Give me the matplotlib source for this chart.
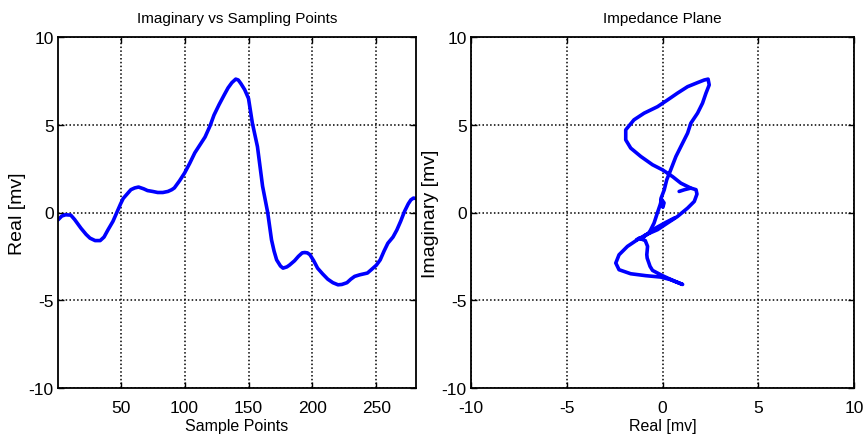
import matplotlib
matplotlib.use('Agg')
import matplotlib.pyplot as plt

plt.rcParams['font.family'] = ['Liberation Sans', 'DejaVu Sans']
plt.rcParams['axes.unicode_minus'] = False

# left panel: signal (sample number, value in mv)
samples = [1, 4, 7, 11, 14, 19, 23, 26, 30, 34, 37, 40, 44, 47, 50, 52, 55,
           58, 61, 64, 68, 71, 75, 79, 83, 87, 90, 92, 96, 100, 104, 108,
           112, 116, 120, 123, 127, 131, 134, 137, 140, 142, 144, 147, 150,
           153, 157, 161, 165, 168, 170, 172, 175, 177, 180, 182, 186, 189,
           192, 194, 196, 198, 201, 204, 208, 212, 216, 220, 223, 227, 230,
           233, 237, 240, 243, 246, 250, 253, 256, 259, 263, 266, 269, 272,
           275, 277, 279, 281]
imag_mv = [-0.42, -0.2, -0.13, -0.15, -0.4, -0.9, -1.25, -1.46, -1.6, -1.6,
           -1.4, -1.0, -0.5, 0.0, 0.5, 0.8, 1.05, 1.3, 1.4, 1.45, 1.35, 1.25,
           1.2, 1.14, 1.14, 1.2, 1.3, 1.4, 1.8, 2.25, 2.8, 3.4, 3.85, 4.3,
           4.95, 5.55, 6.15, 6.7, 7.1, 7.4, 7.6, 7.55, 7.35, 7.0, 6.5, 5.1,
           3.75, 1.5, 0.0, -1.56, -2.2, -2.7, -3.05, -3.17, -3.1, -3.0,
           -2.75, -2.5, -2.3, -2.28, -2.3, -2.4, -2.75, -3.17, -3.5, -3.8,
           -4.0, -4.12, -4.1, -4.0, -3.8, -3.64, -3.55, -3.5, -3.45, -3.26,
           -3.0, -2.7, -2.2, -1.75, -1.4, -1.0, -0.5, 0.06, 0.5, 0.72, 0.82,
           0.8]

# right panel: impedance plane trace (real, imaginary) in mv
real_pts = [0.61, 0.2, -0.3, -0.7, -1.13, -0.95, -0.7, -0.44, -0.26, -0.12,
            -0.05, 0.08, 0.02, -0.08, 0.09, 0.22, 0.43, 0.70, 0.96, 1.31,
            1.48, 1.83, 2.09, 2.27, 2.44, 2.38, 2.18, 1.83, 1.31, 0.78,
            0.26, -0.26, -0.96, -1.49, -1.92, -1.92, -1.66, -1.13, -0.52,
            0.0, 0.52, 0.96, 1.48, 1.75, 1.8, 1.66, 1.31, 0.78, 0.26, -0.26,
            -0.87, -1.31, -1.83, -2.27, -2.44, -2.27, -1.66, -0.87, -0.09,
            0.43, 0.96, 1.05, 0.6, 0.0, -0.52, -0.65, -0.8, -0.82, -0.78,
            -0.9, -1.13, -1.2, -1.35]
imag_pts = [-0.32, -0.55, -0.85, -1.15, -1.5, -1.35, -1.17, -0.6, 0.0, 0.45,
            0.75, 0.55, 0.3, 0.8, 1.29, 1.86, 2.43, 3.19, 3.76, 4.52, 5.09,
            5.66, 6.23, 6.8, 7.27, 7.6, 7.55, 7.4, 7.17, 6.8, 6.41, 6.03,
            5.66, 5.28, 4.71, 4.14, 3.67, 3.19, 2.72, 2.43, 2.05, 1.67, 1.39,
            1.3, 1.05, 0.63, 0.25, -0.23, -0.6, -0.98, -1.27, -1.55, -1.93,
            -2.41, -2.88, -3.26, -3.49, -3.6, -3.68, -3.83, -4.06, -4.1,
            -3.9, -3.6, -3.3, -3.07, -2.6, -2.4, -1.93, -1.6, -1.5, -1.45,
            -1.55]
# short stub ending in the blob near (0.9, 1.2)
stub_real = [1.48, 1.15, 0.87]
stub_imag = [1.39, 1.3, 1.2]

line_kw = dict(color='#0000ff', lw=2.6, solid_capstyle='round',
               solid_joinstyle='round')

fig = plt.figure(figsize=(8.66, 4.39), dpi=100)
ax1 = fig.add_axes([58/866, 50/439, 358/866, 351/439])
ax2 = fig.add_axes([471/866, 50/439, 383/866, 351/439])


def style(ax):
    ax.grid(True, color='black', linestyle=(0, (1, 1.5)), linewidth=1.1)
    ax.tick_params(direction='in', top=True, right=True, length=4,
                   width=1, labelsize=12.5, pad=3)
    ax.tick_params(axis='x', pad=9)
    for s in ax.spines.values():
        s.set_linewidth(1.3)
    ax.set_axisbelow(True)


ax1.plot(samples, imag_mv, **line_kw)
ax1.set_xlim(1, 281)
ax1.set_ylim(-10, 10)
ax1.set_xticks([50, 100, 150, 200, 250])
ax1.set_yticks([-10, -5, 0, 5, 10])
ax1.set_title('Imaginary vs Sampling Points', fontsize=11, pad=11)
ax1.set_xlabel('Sample Points', fontsize=11.5, labelpad=2)
ax1.set_ylabel('Real [mv]', fontsize=14, labelpad=2)
style(ax1)

ax2.plot(real_pts, imag_pts, **line_kw)
ax2.plot(stub_real, stub_imag, **line_kw)
ax2.set_xlim(-10, 10)
ax2.set_ylim(-10, 10)
ax2.set_xticks([-10, -5, 0, 5, 10])
ax2.set_yticks([-10, -5, 0, 5, 10])
ax2.set_title('Impedance Plane', fontsize=11, pad=11)
ax2.set_xlabel('Real [mv]', fontsize=11.5, labelpad=2)
ax2.set_ylabel('Imaginary [mv]', fontsize=14, labelpad=2)
style(ax2)

fig.savefig('out.png', dpi=100)
